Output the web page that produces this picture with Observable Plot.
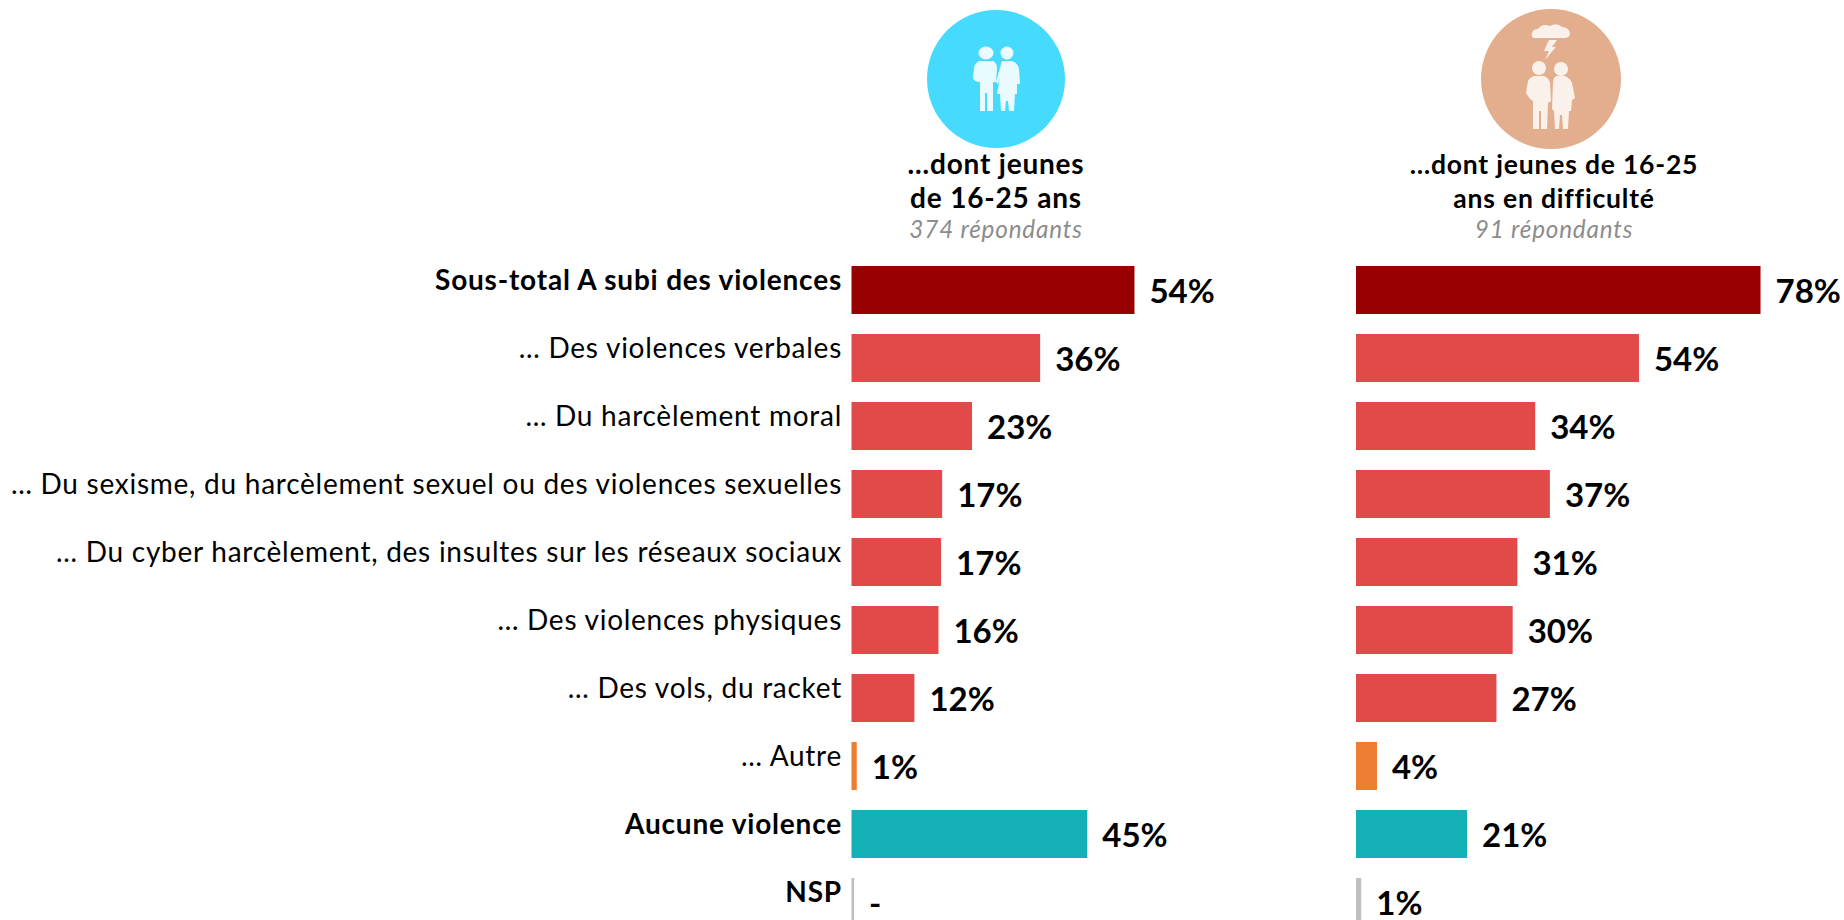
<!DOCTYPE html>
<html lang="fr">
<head>
<meta charset="utf-8">
<script src="https://cdn.jsdelivr.net/npm/d3@7"></script>
<script src="https://cdn.jsdelivr.net/npm/@observablehq/plot@0.6"></script>
<style>
  html, body { margin: 0; padding: 0; background: #fff; overflow: hidden; }
  #page { position: relative; width: 1844px; height: 920px; font-family: Lato, sans-serif; overflow: hidden; }
  #head { position: relative; height: 250px; }
  .col { position: absolute; top: 0; width: 420px; text-align: center; }
  .col svg { display: block; position: absolute; left: 70px; width: 280px; height: 150px; top: 0; }
  .t { position: absolute; left: 0; width: 100%; font-size: 28px; font-weight: 700; color: #000; line-height: 34px; white-space: nowrap; letter-spacing: 0.8px; }
  .s { position: absolute; left: 0; width: 100%; font-size: 24.3px; font-style: italic; color: #8c8c8c; line-height: 30px; white-space: nowrap; letter-spacing: 0.8px; }
  .r { font-size: 26.5px; margin-left: 3px; }
  #plot svg { display: block; }
</style>
</head>
<body>
<div id="page">
  <div id="head">
    <div class="col" style="left:786px">
      <svg viewBox="-140 -79 280 150" aria-hidden="true">
        <circle cx="0" cy="0" r="69" fill="#47daff"/>
        <g fill="#e9fbff">
          <ellipse cx="-10" cy="-26" rx="7.5" ry="6.5"/>
          <ellipse cx="11" cy="-26" rx="6.5" ry="6.5"/>
          <path d="M-17,-18 H-3 Q1,-16 1,-11 L0,3 L-3,3 L-3,32 L-9,32 L-9,14 L-11,14 L-11,32 L-16,32 L-16,3 Q-22,3 -23,-1 L-22,-11 Q-21,-16 -17,-18 Z"/>
          <path d="M6,-18 H16 Q22,-16 23,-10 L24,5 L21,5 L21,15 L19,15 L18,32 L13,32 L12,22 L10,22 L9,32 L5,32 L4,15 L1,15 L4,-2 L2,5 L0,3 Z"/>
        </g>
      </svg>
      <div class="t" style="top:146px">…dont jeunes</div>
      <div class="t" style="top:180px">de 16-25 ans</div>
      <div class="s" style="top:214px">374 répondants</div>
    </div>
    <div class="col" style="left:1341px">
      <svg viewBox="-140 -79 280 150" aria-hidden="true">
        <circle cx="0" cy="0" r="70" fill="#e3ae8e"/>
        <g fill="#fbf1eb">
          <path d="M-17,-41 Q-20,-42 -19,-46 Q-18,-50 -13,-50 Q-9,-56 -1,-53 Q6,-57 11,-52 Q19,-51 19,-45 Q18,-41 14,-41 Z"/>
          <path d="M-2,-39 L6,-39 L1,-32 L5,-32 L-6,-19 L-2,-28 L-7,-28 Z"/>
          <circle cx="-12" cy="-11" r="7"/>
          <circle cx="10" cy="-10" r="7"/>
          <path d="M-17,-3 H-7 Q-2,-1 -1,4 L0,22 L-3,24 L-4,50 L-10,50 L-10,32 L-12,32 L-12,50 L-18,50 L-18,22 L-21,20 L-25,14 L-23,2 Q-21,-2 -17,-3 Z"/>
          <path d="M5,-3 H14 Q19,-1 21,4 L24,19 L21,21 L20,32 L18,32 L17,50 L12,50 L11,36 L9,36 L8,50 L4,50 L3,32 L1,30 L2,4 Q2,-1 5,-3 Z"/>
        </g>
      </svg>
      <div class="t r" style="top:147px">…dont jeunes de 16-25</div>
      <div class="t r" style="top:181px">ans en difficulté</div>
      <div class="s" style="top:214px;margin-left:3px">91 répondants</div>
    </div>
  </div>
  <div id="plot"></div>
</div>
<script>
const categories = [
  "Sous-total A subi des violences",
  "… Des violences verbales",
  "… Du harcèlement moral",
  "… Du sexisme, du harcèlement sexuel ou des violences sexuelles",
  "… Du cyber harcèlement, des insultes sur les réseaux sociaux",
  "… Des violences physiques",
  "… Des vols, du racket",
  "… Autre",
  "Aucune violence",
  "NSP"
];
const groups = ["total", "item", "item", "item", "item", "item", "item", "autre", "aucune", "nsp"];
const boldRows = ["Sous-total A subi des violences", "Aucune violence", "NSP"];
const valuesJeunes = [54, 36, 23, 17.3, 17.1, 16.6, 12, 1, 45, 0.5];
const labelsJeunes = ["54%", "36%", "23%", "17%", "17%", "16%", "12%", "1%", "45%", "-"];
const valuesDifficulte = [77.2, 54, 34.2, 37, 30.8, 29.9, 26.8, 4, 21.2, 1];
const labelsDifficulte = ["78%", "54%", "34%", "37%", "31%", "30%", "27%", "4%", "21%", "1%"];
const groupDomain = ["total", "item", "autre", "aucune", "nsp"];
const groupColors = ["#970000", "#e24a4a", "#ed7d31", "#13b0b8", "#bfbfbf"];

const rowsA = categories.map((c, i) => ({c, v: valuesJeunes[i], l: labelsJeunes[i], g: groups[i]}));
const rowsB = categories.map((c, i) => ({c, v: valuesDifficulte[i], l: labelsDifficulte[i], g: groups[i]}));
const panelGap = 504.5;
const textFont = "Lato, sans-serif";
const valueStyle = {x: "v", y: "c", text: "l", textAnchor: "start", fontFamily: textFont, fontSize: 33, fontWeight: 700, fill: "#000"};
const catStyle = {x: () => 0, y: "c", text: "c", textAnchor: "end", dx: -10, dy: -9, fontFamily: textFont, fontSize: 28, fill: "#000"};

const chart = Plot.plot({
  width: 1844,
  height: 670,
  margin: 0,
  style: {background: "#fff", overflow: "hidden"},
  x: {axis: null, domain: [0, 100], range: [851.5, 1375.5]},
  y: {axis: null, domain: categories, range: [-5.6, 697.4], padding: 0.2946},
  color: {domain: groupDomain, range: groupColors},
  marks: [
    Plot.barX(rowsA, {x1: () => 0, x2: "v", y: "c", fill: "g"}),
    Plot.barX(rowsB, {x1: () => 0, x2: "v", y: "c", fill: "g", dx: panelGap}),
    Plot.text(rowsA.filter(d => !boldRows.includes(d.c)), catStyle),
    Plot.text(rowsA.filter(d => boldRows.includes(d.c)), {...catStyle, fontWeight: 700}),
    Plot.text(rowsA, {...valueStyle, dx: 14.5, dy: 2}),
    Plot.text(rowsB, {...valueStyle, dx: panelGap + 14.5, dy: 2})
  ]
});
const catTextGroups = chart.querySelectorAll("g[aria-label='text']");
catTextGroups[0].style.letterSpacing = "0.74px";
catTextGroups[1].style.letterSpacing = "0.8px";
document.getElementById("plot").appendChild(chart);
</script>
</body>
</html>
